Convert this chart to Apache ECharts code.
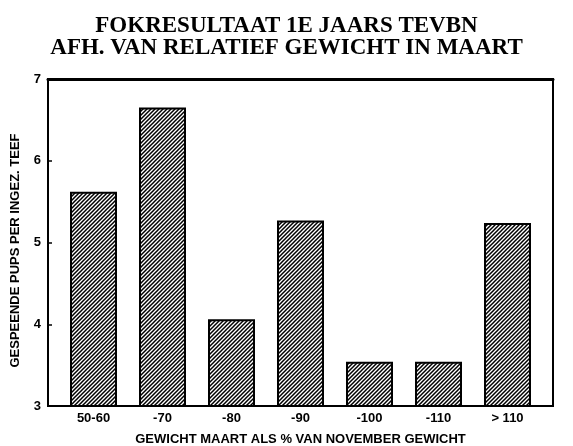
<!DOCTYPE html>
<html>
<head>
<meta charset="utf-8">
<script src="https://cdn.jsdelivr.net/npm/echarts@6/dist/echarts.min.js"></script>
<style>
  html, body { margin: 0; padding: 0; background: #fff; }
  #container { width: 573px; height: 446px; }
</style>
</head>
<body>
<div id="container"></div>
<script>
var categories = ['50-60', '-70', '-80', '-90', '-100', '-110', '> 110'];
var pupsPerTeef = [5.62, 6.65, 4.06, 5.27, 3.54, 3.54, 5.24];
var yTicks = [3, 4, 5, 6, 7];

var titleLine1 = 'FOKRESULTAAT 1E JAARS TEVBN';
var titleLine2 = 'AFH. VAN RELATIEF GEWICHT IN MAART';

// hatch pattern ( //// ) voor de staven
function makeHatch() {
    var c = document.createElement('canvas');
    var s = 4;
    c.width = s;
    c.height = s;
    var ctx = c.getContext('2d');
    ctx.fillStyle = '#fff';
    ctx.fillRect(0, 0, s, s);
    ctx.strokeStyle = '#000';
    ctx.lineWidth = 1.5;
    ctx.beginPath();
    ctx.moveTo(-1, s + 1); ctx.lineTo(s + 1, -1);
    ctx.moveTo(-1, 1); ctx.lineTo(1, -1);
    ctx.moveTo(s - 1, s + 1); ctx.lineTo(s + 1, s - 1);
    ctx.stroke();
    return c;
}

var dom = document.getElementById('container');
var myChart = echarts.init(dom);
var font = 'Liberation Sans';

var option = {
    backgroundColor: '#fff',
    animation: false,
    title: {
        text: titleLine1 + '\n' + titleLine2,
        left: 'center',
        top: 10,
        padding: [5, 21, 5, 5],
        textStyle: {
            fontFamily: 'Liberation Serif',
            fontWeight: 'bold',
            fontSize: 23,
            lineHeight: 22,
            color: '#000'
        }
    },
    grid: [
        { left: 48, right: 20, top: 79, bottom: 40, outerBoundsMode: 'none', show: true, borderColor: '#000', borderWidth: 2 },
        { left: 59, right: 31, top: 79, bottom: 40, outerBoundsMode: 'none' }
    ],
    xAxis: [
        {
            gridIndex: 0, type: 'value', position: 'top', min: 0, max: 1,
            axisLine: { show: true, lineStyle: { color: '#000', width: 3 } },
            axisTick: { show: false }, axisLabel: { show: false }, splitLine: { show: false }
        },
        {
            gridIndex: 1, type: 'category', data: categories,
            axisLine: { show: false },
            axisTick: { show: false },
            axisLabel: {
                interval: 0, margin: 6,
                fontFamily: font, fontWeight: 'bold', fontSize: 13, color: '#000'
            },
            name: 'GEWICHT MAART ALS % VAN NOVEMBER GEWICHT',
            nameLocation: 'middle',
            nameGap: 27,
            nameTextStyle: { fontFamily: font, fontWeight: 'bold', fontSize: 13, color: '#000' }
        }
    ],
    yAxis: [
        {
            gridIndex: 0, type: 'value', min: yTicks[0], max: yTicks[yTicks.length - 1], interval: 1,
            axisLine: { show: true, lineStyle: { color: '#000', width: 2 } },
            axisTick: { show: true, inside: true, length: 4, lineStyle: { color: '#000', width: 1.5 } },
            axisLabel: { margin: 7, fontFamily: font, fontWeight: 'bold', fontSize: 13, color: '#000' },
            splitLine: { show: false },
            name: 'GESPEENDE PUPS PER INGEZ. TEEF',
            nameLocation: 'middle',
            nameGap: 26,
            nameTextStyle: {
                fontFamily: font, fontWeight: 'bold', fontSize: 13, color: '#000',
                padding: [0, 16, 0, 0]
            }
        },
        {
            gridIndex: 1, type: 'value', min: yTicks[0], max: yTicks[yTicks.length - 1], interval: 1,
            show: false
        }
    ],
    series: [
        {
            type: 'bar',
            xAxisIndex: 1,
            yAxisIndex: 1,
            barWidth: 47,
            data: pupsPerTeef,
            itemStyle: {
                color: { image: makeHatch(), repeat: 'repeat' },
                borderColor: '#000',
                borderWidth: 2
            }
        }
    ]
};

myChart.setOption(option);
</script>
</body>
</html>
